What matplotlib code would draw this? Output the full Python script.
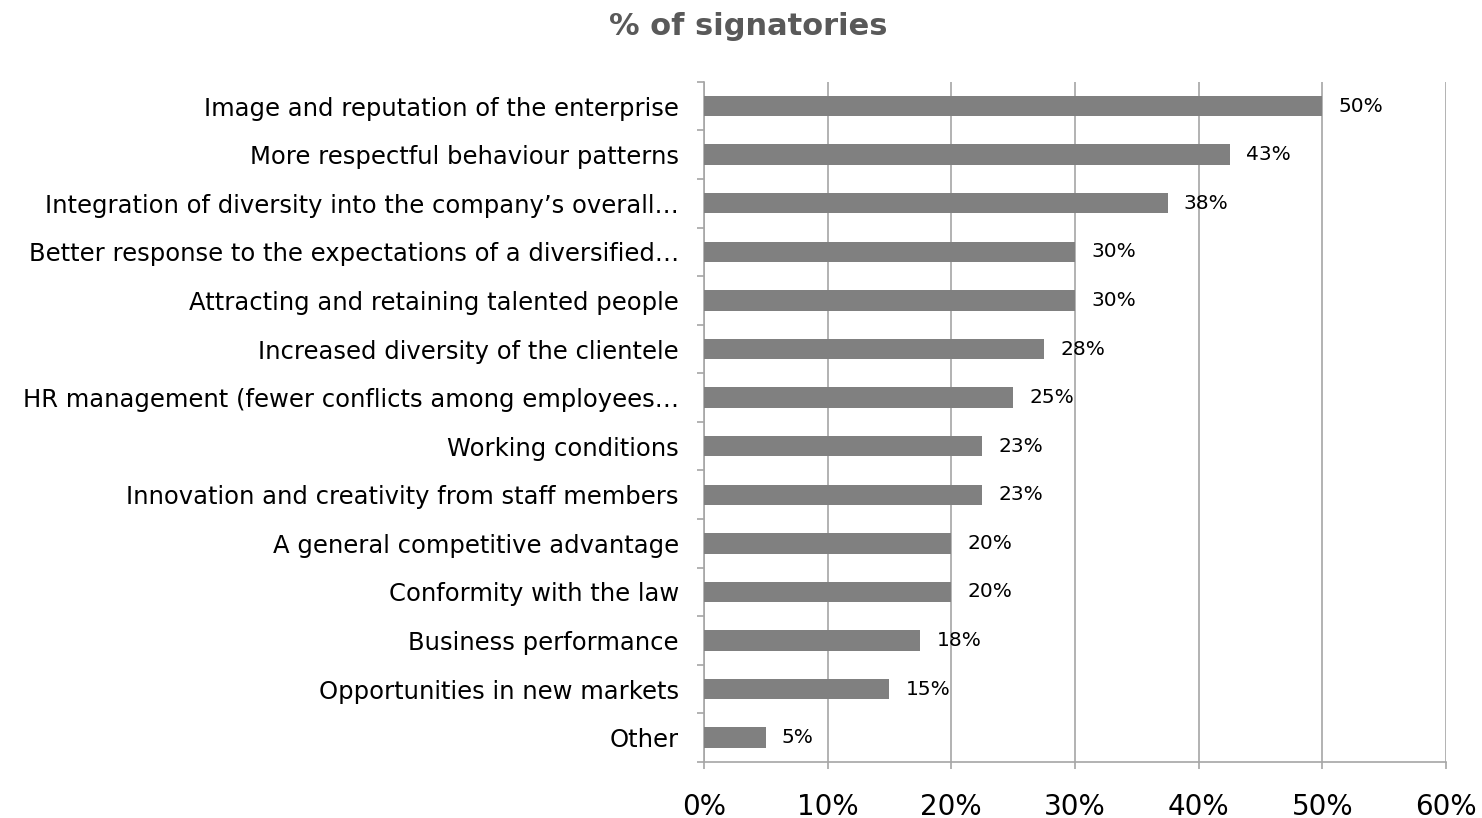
import math
import numpy as np
import matplotlib
matplotlib.use("Agg")
import matplotlib.pyplot as plt
from matplotlib.ticker import FixedLocator, PercentFormatter

# answers, top of the chart first
categories = [
    "Image and reputation of the enterprise",
    "More respectful behaviour patterns",
    "Integration of diversity into the company\u2019s overall\u2026",
    "Better response to the expectations of a diversified\u2026",
    "Attracting and retaining talented people",
    "Increased diversity of the clientele",
    "HR management (fewer conflicts among employees\u2026",
    "Working conditions",
    "Innovation and creativity from staff members",
    "A general competitive advantage",
    "Conformity with the law",
    "Business performance",
    "Opportunities in new markets",
    "Other",
]
share = [50.0, 42.5, 37.5, 30.0, 30.0, 27.5, 25.0, 22.5, 22.5, 20.0, 20.0, 17.5, 15.0, 5.0]
x_ticks = [0, 10, 20, 30, 40, 50, 60]

bar_color = "#808080"
grid_color = "#a6a6a6"

plt.rcParams['font.family'] = ['DejaVu Sans']

fig = plt.figure(figsize=(14.82, 8.18), dpi=100)
ax = fig.add_axes([0.475, 0.0685, 0.5007, 0.8315])

n = len(categories)
y = np.arange(n)[::-1]
ax.barh(y, share, height=0.42, color=bar_color, zorder=3)

# labels rounded half up, like the spreadsheet does
for yi, v in zip(y, share):
    ax.text(v + 1.3, yi, f"{math.floor(v + 0.5):d}%", va="center", ha="left",
            fontsize=14.5, color="#000000", zorder=4)

ax.set_xlim(0, 60)
ax.set_ylim(-0.5, n - 0.5)
ax.xaxis.set_major_locator(FixedLocator(x_ticks))
ax.xaxis.set_major_formatter(PercentFormatter(decimals=0))
ax.set_yticks(y)
ax.set_yticklabels(categories)
ax.yaxis.set_minor_locator(FixedLocator(np.arange(-0.5, n, 1.0)))

ax.grid(axis="x", color=grid_color, linewidth=1.2, zorder=0)
for side in ("top", "right"):
    ax.spines[side].set_visible(False)
for side in ("left", "bottom"):
    ax.spines[side].set_color(grid_color)
    ax.spines[side].set_linewidth(1.2)

ax.tick_params(axis="y", which="major", length=0, pad=18, labelsize=17.5)
ax.tick_params(axis="y", which="minor", length=5, width=1.2, color=grid_color)
ax.tick_params(axis="x", which="major", length=5, width=1.2, color=grid_color,
               pad=17, labelsize=20)

fig.text(0.505, 0.968, "% of signatories", ha="center", va="center",
         fontsize=22, fontweight="bold", color="#595959")

fig.savefig("out.png", dpi=100)
